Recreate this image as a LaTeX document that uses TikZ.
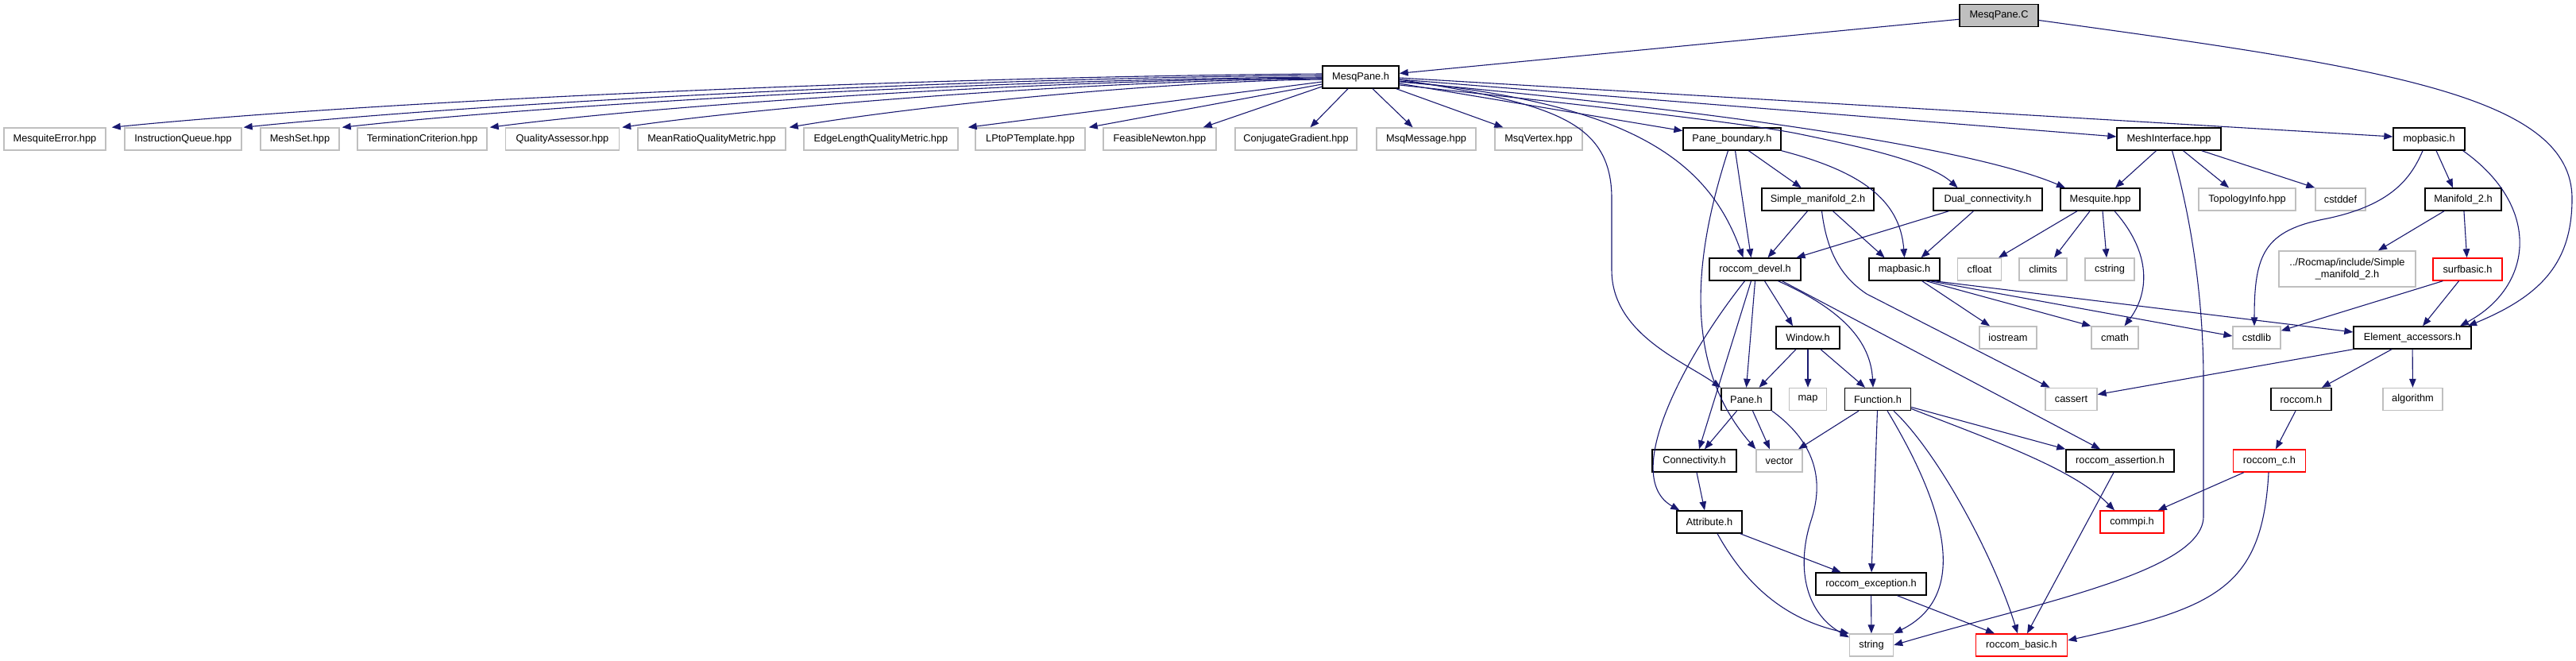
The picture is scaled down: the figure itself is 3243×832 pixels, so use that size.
\documentclass[tikz,border=0pt]{standalone}
\usepackage{fontspec}
\setmainfont{Liberation Sans}
\usetikzlibrary{arrows.meta}
\definecolor{incblue}{HTML}{191970}
\definecolor{sysgray}{HTML}{BFBFBF}
\newcommand\dxfont{\fontsize{12.8}{15}\selectfont}
\tikzset{
    file node/.style={draw=black, line width=1.4pt, fill=white, inner sep=0pt,
        minimum height=28pt, font=\dxfont},
    sys node/.style={file node, draw=sysgray},
    trunc node/.style={file node, draw=red},
    root node/.style={file node, fill=sysgray},
    inc edge/.style={draw=incblue, line width=1.1pt,
        -{Triangle[length=11pt,width=8.5pt]}}
}
\begin{document}
\begin{tikzpicture}[x=1pt,y=-1pt]
\useasboundingbox (0,0) rectangle (3243,832);
% files
\node[root node, minimum width=99pt] (mpc) at (2516.5,19.5) {MesqPane.C};
\node[file node, minimum width=96pt] (mph) at (1713,97) {MesqPane.h};
\node[sys node, minimum width=128pt] (merr) at (69,175) {MesquiteError.hpp};
\node[sys node, minimum width=147pt] (iq) at (230.5,175) {InstructionQueue.hpp};
\node[sys node, minimum width=99pt] (mset) at (377.5,175) {MeshSet.hpp};
\node[sys node, minimum width=163pt] (tc) at (531.5,175) {TerminationCriterion.hpp};
\node[sys node, minimum width=143pt] (qa) at (708,175) {QualityAssessor.hpp};
\node[sys node, minimum width=186pt] (mrqm) at (896,175) {MeanRatioQualityMetric.hpp};
\node[sys node, minimum width=194pt] (elqm) at (1109,175) {EdgeLengthQualityMetric.hpp};
\node[sys node, minimum width=138pt] (lpt) at (1297,175) {LPtoPTemplate.hpp};
\node[sys node, minimum width=142pt] (fn) at (1460,175) {FeasibleNewton.hpp};
\node[sys node, minimum width=153pt] (cg) at (1631.5,175) {ConjugateGradient.hpp};
\node[sys node, minimum width=125pt] (mmsg) at (1795.5,175) {MsqMessage.hpp};
\node[sys node, minimum width=110pt] (mvtx) at (1937,175) {MsqVertex.hpp};
\node[file node, minimum width=123pt] (pb) at (2180.5,175) {Pane\_boundary.h};
\node[file node, minimum width=131pt] (mi) at (2730.5,175) {MeshInterface.hpp};
\node[file node, minimum width=90pt] (mop) at (3058,175) {mopbasic.h};
\node[file node, minimum width=141pt] (sm2) at (2288.5,251) {Simple\_manifold\_2.h};
\node[file node, minimum width=137pt] (dual) at (2502.5,251) {Dual\_connectivity.h};
\node[file node, minimum width=100pt] (mesq) at (2644,251) {Mesquite.hpp};
\node[sys node, minimum width=122pt] (topo) at (2829,251) {TopologyInfo.hpp};
\node[sys node, minimum width=63pt] (cstddef) at (2946.5,251) {cstddef};
\node[file node, minimum width=96pt] (man2) at (3101,251) {Manifold\_2.h};
\node[file node, minimum width=115pt] (rdev) at (2209.5,339) {roccom\_devel.h};
\node[file node, minimum width=89pt] (mapb) at (2397.5,339) {mapbasic.h};
\node[sys node, minimum width=55pt] (cfloat) at (2492,339) {cfloat};
\node[sys node, minimum width=60pt] (climits) at (2572,339) {climits};
\node[sys node, minimum width=62pt] (cstring) at (2656,339) {cstring};
\node[sys node, minimum width=172pt, minimum height=45pt, align=center] (rocmap) at (2955,338.5) {../Rocmap/include/Simple\\\_manifold\_2.h};
\node[trunc node, minimum width=87pt] (surf) at (3106.5,339) {surfbasic.h};
\node[file node, minimum width=80pt] (win) at (2276,425) {Window.h};
\node[sys node, minimum width=72pt] (iostream) at (2528,425) {iostream};
\node[sys node, minimum width=59pt] (cmath) at (2662.5,425) {cmath};
\node[sys node, minimum width=60pt] (cstdlib) at (2841,425) {cstdlib};
\node[file node, minimum width=148pt] (elacc) at (3037,425) {Element\_accessors.h};
\node[file node, minimum width=63pt] (pane) at (2198.5,502.5) {Pane.h};
\node[sys node, minimum width=47pt] (map) at (2276,502.5) {map};
\node[file node, minimum width=83pt] (func) at (2364,502.5) {Function.h};
\node[sys node, minimum width=65pt] (cassert) at (2607.5,502.5) {cassert};
\node[file node, minimum width=76pt] (roccom) at (2897,502.5) {roccom.h};
\node[sys node, minimum width=75pt] (algorithm) at (3037.5,502.5) {algorithm};
\node[file node, minimum width=106pt] (conn) at (2133,580) {Connectivity.h};
\node[sys node, minimum width=58pt] (vector) at (2240,580) {vector};
\node[file node, minimum width=136pt] (rassert) at (2669,580) {roccom\_assertion.h};
\node[trunc node, minimum width=91pt] (roccomc) at (2857,580) {roccom\_c.h};
\node[file node, minimum width=82pt] (attr) at (2152,657) {Attribute.h};
\node[trunc node, minimum width=80pt] (commpi) at (2684,657) {commpi.h};
\node[file node, minimum width=139pt] (rexc) at (2355.5,735) {roccom\_exception.h};
\node[sys node, minimum width=55pt] (string) at (2356,812) {string};
\node[trunc node, minimum width=115pt] (rbasic) at (2545,812) {roccom\_basic.h};

% MesqPane.C
\draw[inc edge] (mpc) -- (mph);
\draw[inc edge] ([yshift=-6pt]mpc.east) .. controls (3000,85) and (3238,120) .. (3238,250)
    .. controls (3238,330) and (3200,372) .. ([xshift=70pt]elacc.north);

% MesqPane.h
\draw[inc edge] ([yshift=4pt]mph.west) .. controls (1208,96) and (506,124) .. ([xshift=7pt]merr.north east);
\draw[inc edge] ([yshift=2pt]mph.west) .. controls (1257,97) and (632,127) .. ([xshift=2pt]iq.north east);
\draw[inc edge] (mph.west) .. controls (1295,99) and (726,128) .. ([xshift=3pt]mset.north east);
\draw[inc edge] ([yshift=-1pt]mph.west) .. controls (1350,100) and (868,128) .. ([xshift=3pt]tc.north east);
\draw[inc edge] ([yshift=-2pt]mph.west) .. controls (1400,101) and (994,130) .. ([xshift=3pt]qa.north east);
\draw[inc edge] ([yshift=-3pt]mph.west) .. controls (1463,102) and (1154,133) .. ([xshift=4pt]mrqm.north east);
\draw[inc edge] ([yshift=-6pt]mph.west) -- ([xshift=12pt]elqm.north east);
\draw[inc edge] ([yshift=-9pt]mph.west) -- ([xshift=4pt]lpt.north east);
\draw[inc edge] ([yshift=-12pt]mph.west) -- ([xshift=-17pt]fn.north east);
\draw[inc edge] ([xshift=-16pt]mph.south) -- ([xshift=18pt]cg.north);
\draw[inc edge] ([xshift=15pt]mph.south) -- ([xshift=-17pt]mmsg.north);
\draw[inc edge] ([xshift=-4pt]mph.south east) -- ([xshift=11pt]mvtx.north west);
\draw[inc edge] (mph) -- (pb);
\draw[inc edge] ([yshift=-3pt]mph.east) -- ([yshift=3pt]mi.west);
\draw[inc edge] ([yshift=-1pt]mph.east) -- ([yshift=3pt]mop.west);
\draw[inc edge] ([yshift=-6pt]mph.east) .. controls (2150,138) and (2480,185) .. ([xshift=-44pt]mesq.north);
\draw[inc edge] ([yshift=-10pt]mph.east) .. controls (2050,138) and (2200,156) .. (2262,168)
    .. controls (2350,186) and (2430,205) .. ([xshift=-38pt]dual.north);
\draw[inc edge] ([yshift=-3pt]mph.east) .. controls (1950,130) and (2029,150) .. (2029,250)
    -- (2029,340) .. controls (2029,420) and (2120,455) .. (pane.north west);
\draw[inc edge] ([yshift=-5pt]mph.east) .. controls (2050,130) and (2150,200) .. ([xshift=-15pt]rdev.north);

% Pane_boundary.h
\draw[inc edge] ([xshift=-5pt]pb.south) .. controls (2140,300) and (2110,450) .. (vector.north west);
\draw[inc edge] ([xshift=4pt]pb.south) -- ([xshift=-5pt]rdev.north);
\draw[inc edge] (pb) -- (sm2);
\draw[inc edge] (pb.south east) .. controls (2340,215) and (2392,250) .. (mapb.north);

% Simple_manifold_2.h, Dual_connectivity.h
\draw[inc edge] ([xshift=-13pt]sm2.south) -- ([xshift=16pt]rdev.north);
\draw[inc edge] ([xshift=19pt]sm2.south) -- ([xshift=-25pt]mapb.north);
\draw[inc edge] ([xshift=5pt]sm2.south) .. controls (2300,320) and (2320,350) .. (2350,370)
    -- ([xshift=-27pt]cassert.north);
\draw[inc edge] ([xshift=-49pt]dual.south) -- ([xshift=52pt]rdev.north);
\draw[inc edge] ([xshift=-18pt]dual.south) -- ([xshift=21pt]mapb.north);

% Mesquite.hpp
\draw[inc edge] ([xshift=-29pt]mesq.south) -- ([xshift=24pt]cfloat.north);
\draw[inc edge] ([xshift=-13pt]mesq.south) -- ([xshift=14pt]climits.north);
\draw[inc edge] ([xshift=3pt]mesq.south) -- ([xshift=-4pt]cstring.north);
\draw[inc edge] ([xshift=18pt]mesq.south) .. controls (2710,320) and (2705,370) .. ([xshift=12pt]cmath.north);

% MeshInterface.hpp
\draw[inc edge] ([xshift=-16pt]mi.south) -- ([xshift=19pt]mesq.north);
\draw[inc edge] ([xshift=18pt]mi.south) -- ([xshift=-23pt]topo.north);
\draw[inc edge] ([xshift=-25pt]mi.south east) -- (cstddef.north west);
\draw[inc edge] ([xshift=4pt]mi.south) .. controls (2760,280) and (2774,380) .. (2774,480)
    -- (2774,650) .. controls (2774,720) and (2560,760) .. (string.east);

% mopbasic.h
\draw[inc edge] ([xshift=9pt]mop.south) -- ([xshift=-13pt]man2.north);
\draw[inc edge] ([xshift=-8pt]mop.south) .. controls (3035,225) and (3010,258) .. (2930,275)
    .. controls (2850,290) and (2838,320) .. ([xshift=-3pt]cstdlib.north);
\draw[inc edge] ([xshift=-3pt]mop.south east) .. controls (3200,260) and (3190,360) .. ([xshift=60pt]elacc.north);

% Manifold_2.h, surfbasic.h
\draw[inc edge] ([xshift=-24pt]man2.south) -- ([xshift=39pt]rocmap.north);
\draw[inc edge] (man2) -- (surf);
\draw[inc edge] ([xshift=13pt]surf.south west) -- ([yshift=-6pt]cstdlib.north east);
\draw[inc edge] ([xshift=-11pt]surf.south) -- ([xshift=13pt]elacc.north);

% mapbasic.h
\draw[inc edge] ([xshift=-23pt]mapb.south east) -- ([xshift=-23pt]iostream.north);
\draw[inc edge] ([xshift=-18pt]mapb.south east) -- (cmath.north west);
\draw[inc edge] ([xshift=-13pt]mapb.south east) -- ([yshift=2pt]cstdlib.west);
\draw[inc edge] ([xshift=-8pt]mapb.south east) -- ([yshift=7pt]elacc.west);

% Element_accessors.h, roccom.h, roccom_c.h
\draw[inc edge] (elacc.south west) -- ([yshift=6pt]cassert.east);
\draw[inc edge] ([xshift=-26pt]elacc.south) -- ([xshift=26pt]roccom.north);
\draw[inc edge] (elacc) -- (algorithm);
\draw[inc edge] ([xshift=-7pt]roccom.south) -- ([xshift=8pt]roccomc.north);
\draw[inc edge] ([xshift=14pt]roccomc.south west) -- ([xshift=-8pt]commpi.north east);
\draw[inc edge] ([xshift=-1pt]roccomc.south) .. controls (2848,740) and (2790,765) .. ([yshift=6pt]rbasic.east);

% Window.h
\draw[inc edge] ([xshift=-15pt]win.south) -- ([xshift=16pt]pane.north);
\draw[inc edge] (win) -- (map);
\draw[inc edge] ([xshift=16pt]win.south) -- ([xshift=-16pt]func.north);

% roccom_devel.h
\draw[inc edge] (rdev.south) -- (pane.north);
\draw[inc edge] ([xshift=12pt]rdev.south) -- ([xshift=-19pt]win.north);
\draw[inc edge] ([xshift=29pt]rdev.south) .. controls (2320,390) and (2355,430) .. ([xshift=-6pt]func.north);
\draw[inc edge] ([xshift=34pt]rdev.south) -- ([xshift=-25pt]rassert.north);
\draw[inc edge] ([xshift=-5pt]rdev.south) -- ([xshift=6pt]conn.north);
\draw[inc edge] ([xshift=-13pt]rdev.south) .. controls (2120,450) and (2040,600) .. ([xshift=4pt]attr.north west);

% Pane.h, Function.h
\draw[inc edge] ([xshift=-12pt]pane.south) -- ([xshift=13pt]conn.north);
\draw[inc edge] ([xshift=8pt]pane.south) -- ([xshift=-12pt]vector.north);
\draw[inc edge] (pane.south east) .. controls (2290,560) and (2295,610) .. (2280,655)
    .. controls (2262,710) and (2270,770) .. ([yshift=-5pt]string.north west);
\draw[inc edge] ([xshift=-24pt]func.south) -- ([xshift=24pt]vector.north);
\draw[inc edge] (func) -- (rexc);
\draw[inc edge] ([xshift=12pt]func.south) .. controls (2450,640) and (2480,750) .. (string.north east);
\draw[inc edge] ([xshift=20pt]func.south) .. controls (2440,570) and (2510,700) .. ([xshift=-5pt]rbasic.north);
\draw[inc edge] ([yshift=-10pt]func.east) -- (rassert.north west);
\draw[inc edge] ([yshift=-12pt]func.east) .. controls (2510,555) and (2610,590) .. ([xshift=-22pt]commpi.north);

% lower part
\draw[inc edge] ([xshift=3pt]conn.south) -- ([xshift=-6pt]attr.north);
\draw[inc edge] ([xshift=-3pt]attr.south east) -- ([xshift=-38pt]rexc.north);
\draw[inc edge] ([xshift=10pt]attr.south) .. controls (2200,740) and (2250,780) .. (string.north west);
\draw[inc edge] (rexc) -- (string);
\draw[inc edge] ([xshift=33pt]rexc.south) -- ([xshift=-34pt]rbasic.north);
\draw[inc edge] ([xshift=-8pt]rassert.south) -- ([xshift=7pt]rbasic.north);
\end{tikzpicture}
\end{document}
